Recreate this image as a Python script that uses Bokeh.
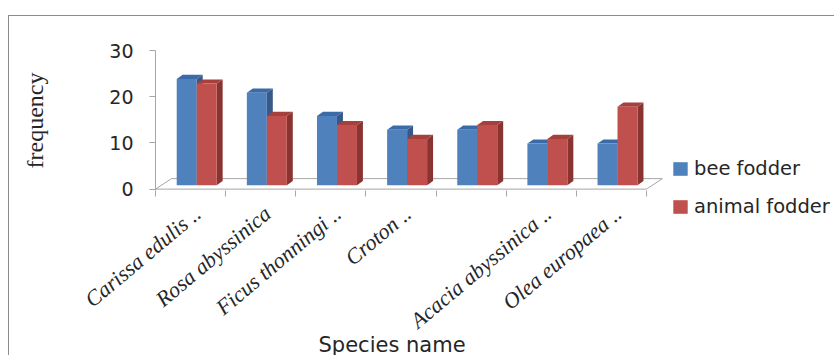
import math
from bokeh.plotting import figure
from bokeh.models import (ColumnDataSource, FixedTicker, Legend, LegendItem, Range1d, Title)
from bokeh.embed import file_html
from bokeh.resources import INLINE

# ---- data ----
species = ["Carissa edulis ..", "Rosa abyssinica", "Ficus thonningi ..", "Croton ..", "",
           "Acacia abyssinica ..", "Olea europaea .."]
bee_fodder = [23, 20, 15, 12, 12, 9, 9]
animal_fodder = [22, 15, 13, 10, 13, 10, 17]
y_ticks = [0, 10, 20, 30]

# ---- styling / pseudo-3D geometry (in axis units) ----
BASE = 0.85          # bars sit slightly behind the front floor edge
DX, DY = 0.085, 0.9  # depth offset of side / top faces
BW = 0.285           # bar width
OFFS = [0.445, 0.73]
FDX, FDY = 0.228, 2.27  # floor depth
LABEL_SHIFT = 0.1       # label anchor shift (styling)
COLORS = [("#4F81BD", "#3A6AA8", "#36598A"), ("#C0504D", "#A6403D", "#8A3431")]
TXT = "#262626"

n = len(species)
p = figure(frame_width=519, frame_height=140, output_backend="svg", toolbar_location=None,
           x_range=Range1d(0, 7.4), y_range=Range1d(-0.3, 30),
           min_border_left=146, min_border_right=160, min_border_top=34, min_border_bottom=165)
p.styles = {"margin-top": "15px", "margin-left": "8px",
            "border-top": "1px solid #8c8c8c", "border-left": "1px solid #8c8c8c"}
p.outline_line_color = None
p.xgrid.visible = False
p.ygrid.visible = False

# floor outline
fx = [0, n, n + FDX, FDX, 0]
fy = [0, 0, FDY, FDY, 0]
p.line(fx, fy, line_color="#A6A6A6", line_width=1)

fronts = []
series = [bee_fodder, animal_fodder]
for si, vals in enumerate(series):
    front_c, top_c, side_c = COLORS[si]
    sxs, sys_, txs, tys = [], [], [], []
    for i, v in enumerate(vals):
        xl = i + OFFS[si] - BW / 2
        xr = i + OFFS[si] + BW / 2
        top = BASE + v
        sxs.append([xr, xr + DX, xr + DX, xr])
        sys_.append([BASE, BASE + DY, top + DY, top])
        txs.append([xl, xr, xr + DX, xl + DX])
        tys.append([top, top, top + DY, top + DY])
    p.patches(sxs, sys_, fill_color=side_c, line_color=None)
    p.patches(txs, tys, fill_color=top_c, line_color=None)

for si, vals in enumerate(series):
    front_c = COLORS[si][0]
    src = ColumnDataSource(dict(x=[i + OFFS[si] for i in range(n)],
                                top=[BASE + v for v in vals],
                                bottom=[BASE] * n))
    r = p.vbar(x="x", top="top", bottom="bottom", width=BW, source=src,
               fill_color=front_c, line_color=None)
    fronts.append(r)

# axes
xa = p.xaxis[0]
label_pos = [i + 0.5 + LABEL_SHIFT for i in range(n)]
xa.ticker = FixedTicker(ticks=label_pos, minor_ticks=list(range(n + 1)))
xa.major_label_overrides = {c: s for c, s in zip(label_pos, species)}
xa.axis_line_color = None
xa.major_tick_line_color = None
xa.major_tick_out = 0
xa.minor_tick_line_color = "#A6A6A6"
xa.minor_tick_out = 6
xa.minor_tick_in = 0
xa.major_label_orientation = math.radians(40)
xa.major_label_standoff = 14
xa.major_label_text_font = "Liberation Serif"
xa.major_label_text_font_style = "italic"
xa.major_label_text_font_size = "22px"
xa.major_label_text_color = TXT

title_ok = False
t = Title(text="Species name", align="left", offset=163, vertical_align="top",
          text_font="DejaVu Sans", text_font_style="normal", text_font_size="21px",
          text_color=TXT)
try:
    t.standoff = -26
    title_ok = True
except Exception:
    title_ok = False
if title_ok:
    p.add_layout(t, "below")
else:
    xa.axis_label = "Species name"
    xa.axis_label_standoff = -18
    xa.axis_label_text_font = "DejaVu Sans"
    xa.axis_label_text_font_style = "normal"
    xa.axis_label_text_font_size = "21px"
    xa.axis_label_text_color = TXT

ya = p.yaxis[0]
ya.ticker = FixedTicker(ticks=y_ticks)
ya.axis_line_color = "#A6A6A6"
ya.major_tick_line_color = "#A6A6A6"
ya.major_tick_out = 6
ya.major_tick_in = 0
ya.minor_tick_line_color = None
ya.major_label_standoff = 16
ya.major_label_text_font = "DejaVu Sans"
ya.major_label_text_font_size = "19px"
ya.major_label_text_color = TXT
ya.axis_label = "frequency"
ya.axis_label_standoff = 58
ya.axis_label_text_font = "Liberation Serif"
ya.axis_label_text_font_style = "normal"
ya.axis_label_text_font_size = "24px"
ya.axis_label_text_color = TXT

legend = Legend(items=[LegendItem(label="bee fodder", renderers=[fronts[0]]),
                       LegendItem(label="animal fodder", renderers=[fronts[1]])],
                location=(-3, -28), glyph_width=18, glyph_height=17, label_height=20,
                label_standoff=5, spacing=15, padding=0, margin=0,
                border_line_color=None, background_fill_alpha=0,
                label_text_font="DejaVu Sans", label_text_font_size="19.5px",
                label_text_color=TXT)
p.add_layout(legend, "right")

open("out.html", "w").write(file_html(p, INLINE))
